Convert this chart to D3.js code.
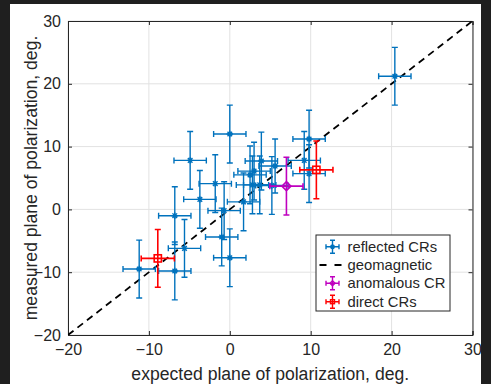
<!DOCTYPE html>
<html><head><meta charset="utf-8">
<script src="https://cdn.jsdelivr.net/npm/d3@7"></script>
<style>html,body{margin:0;padding:0;background:#1f1f1f;} svg{display:block;}</style>
</head><body>
<svg id="c" width="491" height="384"></svg>
<script>
// ---- data ----
const reflectedX    = [20.4, 0.0, -4.9, -1.8, -3.7, -0.7, 1.7, 2.8, 2.5, 3.0, 3.9, 5.6, 3.7, 5.2, 9.2, 9.8, 9.8, -1.0, 0.0, -5.6, -6.8, -6.8, -11.2];
const reflectedY    = [21.2, 12.0, 7.8, 4.1, 1.6, -0.2, 1.2, 3.9, 5.5, 6.1, 7.7, 6.9, 3.9, 3.8, 7.8, 11.2, 5.7, -4.4, -7.7, -6.2, -1.0, -9.8, -9.5];
const reflectedXErr = [2.0, 2.0, 2.0, 2.0, 2.0, 2.0, 2.0, 2.0, 2.0, 2.0, 2.0, 2.0, 2.0, 2.0, 2.0, 2.0, 2.0, 2.0, 2.0, 2.0, 2.0, 2.0, 2.0];
const reflectedYErr = [4.6, 4.6, 4.6, 4.6, 4.6, 4.6, 4.6, 4.6, 4.6, 4.6, 4.6, 4.3, 4.6, 4.6, 4.6, 4.6, 4.6, 4.6, 4.6, 4.6, 4.6, 4.6, 4.6];
const anomalousX = [7.0], anomalousY = [3.7], anomalousXErr = [2.05], anomalousYErr = [4.6];
const directX = [10.7, -8.9], directY = [6.3, -7.8], directXErr = [2.05, 2.05], directYErr = [4.6, 4.6];
const geomagneticX = [-20, 30], geomagneticY = [-20, 30];
const xTicks = [-20, -10, 0, 10, 20, 30];
const yTicks = [-20, -10, 0, 10, 20, 30];
const legendLabels = ["reflected CRs", "geomagnetic", "anomalous CR", "direct CRs"];
const xLabel = "expected plane of polarization, deg.";
const yLabel = "measured plane of polarization, deg.";

// ---- layout ----
const L = 68, R = 472.5, T = 21, B = 335;
const FONT = "'Liberation Sans', Arial, Helvetica, sans-serif";
const AX = "#262626";
const BLUE = "#0072BD", MAG = "#BF00BF", RED = "#FF0000";

const svg = d3.select("#c");
svg.append("rect").attr("x", 10).attr("y", 4).attr("width", 471).attr("height", 380).attr("fill", "#fff");

const x = d3.scaleLinear().domain([-20, 30]).range([L, R]);
const y = d3.scaleLinear().domain([-20, 30]).range([B, T]);

// grid
const g = svg.append("g");
g.selectAll(".gx").data(xTicks).enter().append("line")
  .attr("x1", d => x(d)).attr("x2", d => x(d)).attr("y1", T).attr("y2", B)
  .attr("stroke", "#e2e2e2").attr("stroke-width", 1);
g.selectAll(".gy").data(yTicks).enter().append("line")
  .attr("y1", d => y(d)).attr("y2", d => y(d)).attr("x1", L).attr("x2", R)
  .attr("stroke", "#e2e2e2").attr("stroke-width", 1);

// axes
const xAxis = d3.axisBottom(x).tickValues(xTicks).tickSize(-4).tickPadding(9).tickFormat(d3.format("d"));
const yAxis = d3.axisLeft(y).tickValues(yTicks).tickSize(-4).tickPadding(7).tickFormat(d3.format("d"));
const xTop = d3.axisTop(x).tickValues(xTicks).tickSize(-4).tickFormat("");
const yRight = d3.axisRight(y).tickValues(yTicks).tickSize(-4).tickFormat("");
function style(sel) {
  sel.selectAll("path").attr("stroke", AX).attr("stroke-width", 1);
  sel.selectAll("line").attr("stroke", AX).attr("stroke-width", 1);
  sel.selectAll("text").attr("fill", AX).style("font-family", FONT).style("font-size", "16px");
}
svg.append("g").attr("transform", `translate(0,${B})`).call(xAxis).call(style);
svg.append("g").attr("transform", `translate(${L},0)`).call(yAxis).call(style);
svg.append("g").attr("transform", `translate(0,${T})`).call(xTop).call(style);
svg.append("g").attr("transform", `translate(${R},0)`).call(yRight).call(style);

// labels
svg.append("text").attr("x", (L + R) / 2).attr("y", 380).attr("text-anchor", "middle")
  .style("font-family", FONT).style("font-size", "17.6px").attr("fill", AX).text(xLabel);
svg.append("text").attr("transform", `translate(37,${(T + B) / 2}) rotate(-90)`).attr("text-anchor", "middle")
  .style("font-family", FONT).style("font-size", "17.6px").attr("fill", AX).text(yLabel);

// clip
svg.append("clipPath").attr("id", "pc").append("rect").attr("x", L).attr("y", T).attr("width", R - L).attr("height", B - T);
const plot = svg.append("g").attr("clip-path", "url(#pc)");

// geomagnetic line
plot.append("line")
  .attr("x1", x(geomagneticX[0])).attr("y1", y(geomagneticY[0]))
  .attr("x2", x(geomagneticX[1])).attr("y2", y(geomagneticY[1]))
  .attr("stroke", "#000").attr("stroke-width", 1.8).attr("stroke-dasharray", "7,5");

const CAP = 3;
function errorbars(sel, xs, ys, xe, ye, color, lw) {
  const data = xs.map((v, i) => ({ x: v, y: ys[i], xe: xe[i], ye: ye[i] }));
  const gg = sel.append("g").attr("stroke", color).attr("stroke-width", lw).attr("fill", "none");
  data.forEach(d => {
    const cx = x(d.x), cy = y(d.y);
    const y0 = y(d.y - d.ye), y1 = y(d.y + d.ye), x0 = x(d.x - d.xe), x1 = x(d.x + d.xe);
    gg.append("path").attr("d",
      `M${cx},${y0}V${y1}M${cx - CAP},${y0}H${cx + CAP}M${cx - CAP},${y1}H${cx + CAP}` +
      `M${x0},${cy}H${x1}M${x0},${cy - CAP}V${cy + CAP}M${x1},${cy - CAP}V${cy + CAP}`);
  });
  return { gg, data };
}
function asterisk(gsel, cx, cy, r) {
  gsel.append("path").attr("d",
    `M${cx - r},${cy}H${cx + r}M${cx},${cy - r}V${cy + r}M${cx - r * 0.72},${cy - r * 0.72}L${cx + r * 0.72},${cy + r * 0.72}M${cx - r * 0.72},${cy + r * 0.72}L${cx + r * 0.72},${cy - r * 0.72}`);
}

const blue = errorbars(plot, reflectedX, reflectedY, reflectedXErr, reflectedYErr, BLUE, 1.4);
blue.data.forEach(d => asterisk(blue.gg, x(d.x), y(d.y), 3.2));

const mag = errorbars(plot, anomalousX, anomalousY, anomalousXErr, anomalousYErr, MAG, 1.6);
mag.data.forEach(d => {
  const cx = x(d.x), cy = y(d.y), r = 4.5;
  mag.gg.append("path").attr("d", `M${cx},${cy - r}L${cx + r},${cy}L${cx},${cy + r}L${cx - r},${cy}Z`);
});

const red = errorbars(plot, directX, directY, directXErr, directYErr, RED, 1.6);
red.data.forEach(d => {
  const cx = x(d.x), cy = y(d.y), r = 3.6;
  red.gg.append("rect").attr("x", cx - r).attr("y", cy - r).attr("width", 2 * r).attr("height", 2 * r);
});

// legend
const lg = svg.append("g");
lg.append("rect").attr("x", 316).attr("y", 235).attr("width", 134).attr("height", 76)
  .attr("fill", "#fff").attr("stroke", AX).attr("stroke-width", 1);
const rowY = [246.7, 265, 283.3, 301.7];
const colors = [BLUE, "#000", MAG, RED];
legendLabels.forEach((lab, i) => {
  const cy = rowY[i], cx = 332.5;
  const gi = lg.append("g").attr("stroke", colors[i]).attr("fill", "none");
  if (i === 1) {
    gi.append("path").attr("d", `M${cx - 13},${cy}H${cx - 6}M${cx + 2},${cy}H${cx + 9}`).attr("stroke-width", 1.8);
  } else {
    const h = 6.5, w = 6.5, c = 2.5;
    gi.attr("stroke-width", 1.4).append("path").attr("d",
      `M${cx},${cy - h}V${cy + h}M${cx - c},${cy - h}H${cx + c}M${cx - c},${cy + h}H${cx + c}` +
      `M${cx - w},${cy}H${cx + w}M${cx - w},${cy - c}V${cy + c}M${cx + w},${cy - c}V${cy + c}`);
    if (i === 0) asterisk(gi, cx, cy, 2.5);
    if (i === 2) gi.append("path").attr("d", `M${cx},${cy - 2.5}L${cx + 2.5},${cy}L${cx},${cy + 2.5}L${cx - 2.5},${cy}Z`);
    if (i === 3) gi.append("rect").attr("x", cx - 2).attr("y", cy - 2).attr("width", 4).attr("height", 4);
  }
  lg.append("text").attr("x", 347.5).attr("y", cy).attr("dy", "0.35em")
    .style("font-family", FONT).style("font-size", "14.8px").attr("fill", AX).text(lab);
});
</script>
</body></html>
